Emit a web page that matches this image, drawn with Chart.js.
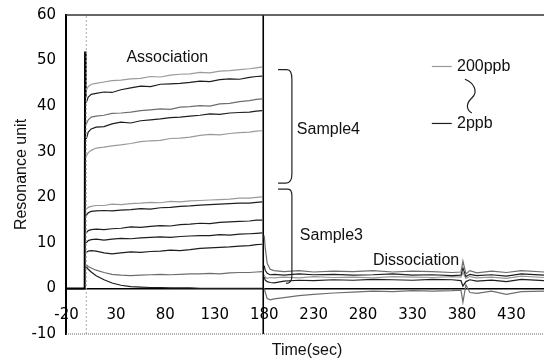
<!DOCTYPE html>
<html>
<head>
<meta charset="utf-8">
<script src="https://cdn.jsdelivr.net/npm/chart.js@4.4.1/dist/chart.umd.min.js"></script>
<style>
  html, body { margin: 0; padding: 0; background: #fff; }
  #wrap { width: 544px; height: 360px; }
</style>
</head>
<body>
<div id="wrap"><canvas id="sensor-chart" width="544" height="360"></canvas></div>
<script>
// tick labels
const xTicks = [-20, 30, 80, 130, 180, 230, 280, 330, 380, 430]
const yTicks = [-10, 0, 10, 20, 30, 40, 50, 60]

// injection / wash markers (sec)
const injectTime = 0
const washTime = 179

// baseline before injection, with the injection spike
const baselineTime = [-20.5, -1.6, -1.2, -0.6]
const baselineValue = [0, 0, 52, 42]

// association phase
const assocTime = [0, 2, 5, 10, 18, 26, 35, 45, 55, 65, 75, 85, 95, 105, 115, 125, 135, 145, 155, 165, 172, 178]
// Sample4, 200ppb down to 2ppb
const sample4A = [43.5, 44.3, 44.8, 45.0, 45.3, 45.6, 45.7, 46.0, 46.1, 46.5, 46.4, 46.8, 47.0, 47.1, 47.4, 47.3, 47.7, 47.8, 48.0, 48.2, 48.4, 48.6]
const sample4B = [40.8, 42.0, 42.6, 42.8, 43.1, 43.0, 43.6, 44.0, 44.4, 44.3, 44.8, 44.9, 45.0, 45.2, 45.5, 45.4, 45.8, 46.0, 45.9, 46.3, 46.5, 46.6]
const sample4C = [36.0, 37.0, 37.6, 37.8, 38.0, 38.4, 38.5, 38.7, 39.0, 39.2, 39.4, 39.3, 39.8, 39.9, 40.1, 40.0, 40.5, 40.6, 41.0, 41.2, 41.5, 41.6]
const sample4D = [32.8, 34.3, 35.0, 35.4, 35.5, 36.1, 36.5, 36.3, 36.8, 37.0, 37.2, 37.5, 37.6, 37.8, 38.0, 38.3, 38.2, 38.5, 38.6, 38.7, 38.9, 39.0]
const sample4E = [29.0, 29.8, 30.3, 30.8, 31.0, 31.3, 31.5, 31.8, 32.2, 32.4, 32.5, 32.9, 33.0, 33.2, 33.6, 33.8, 33.7, 34.0, 34.2, 34.3, 34.5, 34.6]
// Sample3
const sample3A = [17.4, 17.8, 18.0, 18.2, 18.2, 18.5, 18.4, 18.6, 18.7, 18.9, 18.8, 19.1, 19.0, 19.2, 19.3, 19.4, 19.5, 19.6, 19.8, 19.8, 20.0, 20.1]
const sample3B = [16.0, 16.6, 16.9, 17.0, 17.1, 17.0, 17.2, 17.3, 17.5, 17.4, 17.7, 17.8, 18.0, 18.1, 18.3, 18.4, 18.5, 18.6, 18.7, 18.7, 18.9, 19.0]
const sample3C = [12.2, 12.7, 12.9, 13.0, 12.9, 13.1, 13.2, 13.5, 13.4, 13.6, 13.8, 13.7, 14.0, 14.1, 14.3, 14.2, 14.5, 14.6, 14.7, 14.8, 15.0, 15.0]
const sample3D = [10.0, 10.5, 10.7, 10.8, 10.6, 10.8, 11.0, 10.9, 11.1, 11.2, 11.3, 11.2, 11.4, 11.5, 11.6, 11.6, 11.8, 11.7, 11.9, 12.0, 12.1, 12.2]
const sample3E = [7.9, 8.2, 8.3, 8.2, 7.8, 7.6, 7.8, 8.0, 7.9, 8.1, 8.2, 8.4, 8.3, 8.5, 8.8, 8.9, 9.0, 9.1, 9.3, 9.4, 9.6, 9.7]
const sample3F = [5.2, 4.8, 4.5, 4.0, 3.5, 3.1, 2.9, 2.8, 2.9, 3.0, 3.1, 3.0, 3.1, 3.2, 3.2, 3.3, 3.2, 3.4, 3.5, 3.5, 3.6, 3.7]
const sample3G = [4.8, 4.2, 3.6, 2.8, 1.9, 1.2, 0.7, 0.4, 0.3, 0.2, 0.2, 0.1, 0.1, 0.1, 0, 0, 0, 0, 0, 0, 0, 0]

// dissociation phase
const dissocTime = [180, 181, 183, 186, 190, 200, 215, 230, 250, 270, 290, 310, 330, 350, 370, 379, 381, 384, 388, 395, 410, 425, 440, 463]
const dissocA = [11.6, 9.0, 5.5, 4.2, 3.9, 3.7, 3.9, 3.6, 3.8, 3.7, 3.9, 3.6, 3.8, 3.7, 3.5, 3.6, 6.0, 3.2, 3.9, 3.4, 3.8, 3.5, 3.9, 3.6]
const dissocB = [5.0, 4.0, 3.3, 3.0, 3.1, 2.9, 3.2, 3.0, 3.1, 2.9, 3.0, 3.2, 2.9, 3.0, 2.8, 2.9, 4.5, 2.6, 3.1, 2.8, 3.0, 2.7, 3.2, 2.9]
const dissocC = [3.0, 2.5, 2.2, 2.4, 2.3, 2.5, 2.3, 2.6, 2.4, 2.5, 2.3, 2.6, 2.5, 2.4, 2.6, 2.5, 3.5, 2.2, 2.6, 2.3, 2.5, 2.2, 2.7, 2.4]
const dissocD = [2.5, 1.8, 1.5, 1.3, 1.2, 1.6, 1.8, 1.7, 1.9, 1.8, 2.0, 1.9, 1.8, 2.0, 1.9, 1.7, 0.5, 1.5, 1.9, 1.6, 1.8, 1.5, 2.0, 1.7]
const dissocE = [0, -0.8, -2.2, -2.5, -2.3, -2.0, -1.6, -1.3, -1.0, -0.8, -0.6, -0.7, -0.5, -0.6, -0.5, -0.4, -3.0, 0.8, -0.9, -1.1, -0.6, -1.3, -0.7, -0.6]

const DARK = '#1e1e1e'
const GRAY = '#6e6e6e'
const LIGHT = '#9a9a9a'
const tickFont = { family: '"DejaVu Sans", sans-serif', size: 15 }
const textFont = '16px "Liberation Sans", Arial, sans-serif'

function toPoints(times, values) {
    return times.map(function (t, i) { return { x: t, y: values[i] } })
}
function line(times, values, color, width) {
    return {
        data: toPoints(times, values),
        borderColor: color,
        borderWidth: width || 1.2,
        pointRadius: 0,
        tension: 0
    }
}

const datasets = [
    line([injectTime, injectTime], [-10, 60], '#a8a8a8', 1),
    line(assocTime, sample4A, LIGHT),
    line(assocTime, sample4B, DARK),
    line(assocTime, sample4C, GRAY),
    line(assocTime, sample4D, DARK),
    line(assocTime, sample4E, LIGHT),
    line(assocTime, sample3A, LIGHT),
    line(assocTime, sample3B, DARK),
    line(assocTime, sample3C, DARK),
    line(assocTime, sample3D, DARK),
    line(assocTime, sample3E, DARK),
    line(assocTime, sample3F, GRAY),
    line(assocTime, sample3G, DARK),
    line(dissocTime, dissocA, GRAY),
    line(dissocTime, dissocB, DARK),
    line(dissocTime, dissocC, LIGHT),
    line(dissocTime, dissocD, DARK),
    line(dissocTime, dissocE, GRAY),
    line(baselineTime, baselineValue, '#000', 2),
    line([washTime, washTime], [-10, 60], '#000', 1.6)
]
datasets[0].borderDash = [2, 2]

// frame, labels, brackets, legend
const annotations = {
    id: 'annotations',
    afterDatasetsDraw(chart) {
        const { ctx, chartArea, scales } = chart
        const px = t => scales.x.getPixelForValue(t)
        const py = v => scales.y.getPixelForValue(v)
        ctx.save()

        // top and bottom of the frame
        ctx.strokeStyle = '#333'
        ctx.lineWidth = 1.5
        ctx.beginPath()
        ctx.moveTo(chartArea.left, chartArea.top)
        ctx.lineTo(chartArea.right, chartArea.top)
        ctx.stroke()
        ctx.setLineDash([1, 1])
        ctx.strokeStyle = '#666'
        ctx.lineWidth = 1
        ctx.beginPath()
        ctx.moveTo(chartArea.left, chartArea.bottom)
        ctx.lineTo(chartArea.right, chartArea.bottom)
        ctx.stroke()
        ctx.setLineDash([])

        // text
        ctx.fillStyle = '#111'
        ctx.font = textFont
        ctx.textBaseline = 'middle'
        ctx.textAlign = 'center'
        ctx.fillText('Association', px(82), py(50.6))
        ctx.fillText('Time(sec)', (chartArea.left + chartArea.right) / 2 + 2, chartArea.bottom + 17)
        ctx.textAlign = 'left'
        ctx.fillText('Sample4', px(213), py(34.8))
        ctx.fillText('Sample3', px(216), py(11.7))
        ctx.fillText('Dissociation', px(290), py(6.2))
        ctx.fillText('200ppb', px(375), py(48.7))
        ctx.fillText('2ppb', px(375), py(36.2))

        // brackets
        ctx.strokeStyle = '#222'
        ctx.lineWidth = 1.2
        ctx.beginPath()
        ctx.moveTo(px(194), py(48.0))
        ctx.lineTo(px(203), py(48.0))
        ctx.quadraticCurveTo(px(208), py(48.0), px(208), py(45.9))
        ctx.lineTo(px(208), py(25.1))
        ctx.quadraticCurveTo(px(208), py(23.1), px(202), py(23.1))
        ctx.lineTo(px(194), py(23.1))
        ctx.moveTo(px(194), py(21.8))
        ctx.lineTo(px(204), py(21.8))
        ctx.quadraticCurveTo(px(208), py(21.8), px(208), py(20.3))
        ctx.lineTo(px(208), py(2.8))
        ctx.quadraticCurveTo(px(208), py(1.1), px(202), py(1.1))
        ctx.stroke()

        // legend
        ctx.lineWidth = 1.2
        ctx.strokeStyle = LIGHT
        ctx.beginPath()
        ctx.moveTo(px(349.5), py(48.7))
        ctx.lineTo(px(369.7), py(48.7))
        ctx.stroke()
        ctx.strokeStyle = DARK
        ctx.beginPath()
        ctx.moveTo(px(349.5), py(36.2))
        ctx.lineTo(px(369.7), py(36.2))
        ctx.stroke()
        ctx.beginPath()
        ctx.moveTo(px(383), py(45.9))
        ctx.bezierCurveTo(px(392), py(45.2), px(397), py(43.2), px(390), py(41.8))
        ctx.bezierCurveTo(px(384), py(40.6), px(384), py(39.2), px(390), py(38.5))
        ctx.stroke()

        ctx.restore()
    }
}

new Chart(document.getElementById('sensor-chart'), {
    type: 'line',
    data: { datasets: datasets },
    options: {
        responsive: false,
        animation: false,
        layout: { padding: { top: 15, bottom: 26, left: 0, right: 0 } },
        plugins: { legend: { display: false }, tooltip: { enabled: false } },
        scales: {
            x: {
                type: 'linear',
                min: -20.5,
                max: 463,
                position: { y: 0 },
                afterBuildTicks: function (scale) {
                    scale.ticks = xTicks.map(function (v) { return { value: v } })
                },
                grid: { display: false, drawTicks: false },
                border: { display: true, color: '#000', width: 1.5 },
                ticks: { color: '#000', font: tickFont, padding: 18, maxRotation: 0, autoSkip: false }
            },
            y: {
                type: 'linear',
                min: -10,
                max: 60,
                afterBuildTicks: function (scale) {
                    scale.ticks = yTicks.map(function (v) { return { value: v } })
                },
                afterFit: function (scale) {
                    scale.width = 66
                    scale.paddingTop = 0
                    scale.paddingBottom = 0
                },
                grid: { display: false, drawTicks: false },
                border: { display: true, color: '#000', width: 2 },
                ticks: { color: '#000', font: tickFont, padding: 10 },
                title: {
                    display: true,
                    text: 'Resonance unit',
                    color: '#111',
                    font: { family: '"Liberation Sans", Arial, sans-serif', size: 16 },
                    padding: { top: 12, bottom: 0 }
                }
            }
        }
    },
    plugins: [annotations]
});
</script>
</body>
</html>
